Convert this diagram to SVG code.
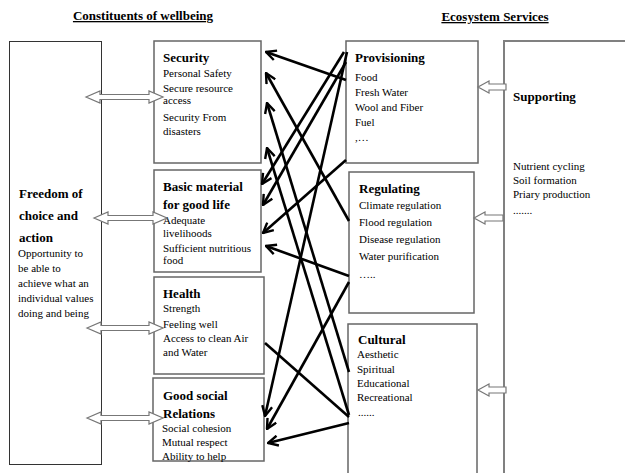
<svg xmlns="http://www.w3.org/2000/svg" width="625" height="473" viewBox="0 0 625 473">
<style>
text{font-family:"Liberation Serif","Times New Roman",serif;fill:#000}
.h{font-size:13px;font-weight:bold;text-decoration:underline}
.t{font-size:13px;font-weight:bold}
.i{font-size:11px}
.box{fill:#fff;stroke:#666;stroke-width:1.5}
.ha{fill:#fff;stroke:#777;stroke-width:1.2}
.c{stroke:#000;stroke-width:2.6;fill:none}
</style>
<defs>
<marker id="ah" viewBox="0 0 12 12" refX="11" refY="6" markerWidth="12" markerHeight="12" markerUnits="userSpaceOnUse" orient="auto">
<path d="M1,1 L11,6 L1,11" fill="none" stroke="#000" stroke-width="2.4"/>
</marker>
</defs>
<rect width="625" height="473" fill="#fff"/>
<text class="h" x="143" y="20" text-anchor="middle">Constituents of wellbeing</text>
<text class="h" x="495" y="21" text-anchor="middle">Ecosystem Services</text>

<g id="freedom">
<rect x="9.5" y="41.5" width="92" height="423" fill="#fff" stroke="#333" stroke-width="1"/>
<text class="t" x="19" y="198">Freedom of</text>
<text class="t" x="19" y="220">choice and</text>
<text class="t" x="19" y="242">action</text>
<text class="i" x="18" y="257">Opportunity to</text>
<text class="i" x="18" y="272">be able to</text>
<text class="i" x="18" y="287">achieve what an</text>
<text class="i" x="18" y="302">individual values</text>
<text class="i" x="18" y="317">doing and being</text>
</g>

<g id="supporting">
<path d="M504,473 L504,41 L625,41" fill="none" stroke="#808080" stroke-width="2"/>
<text class="t" x="513" y="101">Supporting</text>
<text class="i" x="513" y="170">Nutrient cycling</text>
<text class="i" x="513" y="184">Soil formation</text>
<text class="i" x="513" y="198">Priary production</text>
<text class="i" x="513" y="214">.......</text>
</g>

<g id="security">
<rect class="box" x="154" y="41" width="107" height="122"/>
<text class="t" x="163" y="62">Security</text>
<text class="i" x="163" y="77">Personal Safety</text>
<text class="i" x="163" y="92">Secure resource</text>
<text class="i" x="163" y="104">access</text>
<text class="i" x="163" y="121">Security From</text>
<text class="i" x="163" y="135">disasters</text>
</g>

<g id="basic">
<rect class="box" x="154" y="170" width="107" height="102"/>
<text class="t" x="163" y="191">Basic material</text>
<text class="t" x="163" y="209">for good life</text>
<text class="i" x="163" y="224">Adequate</text>
<text class="i" x="163" y="237">livelihoods</text>
<text class="i" x="163" y="252">Sufficient nutritious</text>
<text class="i" x="163" y="264">food</text>
</g>

<g id="health">
<rect class="box" x="154" y="277" width="110" height="97"/>
<text class="t" x="163" y="298">Health</text>
<text class="i" x="163" y="312">Strength</text>
<text class="i" x="163" y="328">Feeling well</text>
<text class="i" x="163" y="342">Access to clean Air</text>
<text class="i" x="163" y="356">and Water</text>
</g>

<g id="social">
<rect class="box" x="153" y="378" width="111" height="83"/>
<text class="t" x="163" y="400">Good social</text>
<text class="t" x="163" y="418">Relations</text>
<text class="i" x="162" y="432">Social cohesion</text>
<text class="i" x="162" y="446">Mutual respect</text>
<text class="i" x="162" y="460">Ability to help</text>
</g>

<g id="provisioning">
<rect class="box" x="346" y="41" width="132" height="122"/>
<text class="t" x="355" y="62">Provisioning</text>
<text class="i" x="355" y="81">Food</text>
<text class="i" x="355" y="96">Fresh Water</text>
<text class="i" x="355" y="111">Wool and Fiber</text>
<text class="i" x="355" y="126">Fuel</text>
<text class="i" x="355" y="141">,…</text>
</g>

<g id="regulating">
<rect class="box" x="349" y="172" width="125" height="141"/>
<text class="t" x="359" y="193">Regulating</text>
<text class="i" x="359" y="209">Climate regulation</text>
<text class="i" x="359" y="226">Flood regulation</text>
<text class="i" x="359" y="243">Disease regulation</text>
<text class="i" x="359" y="260">Water purification</text>
<text class="i" x="359" y="278">…..</text>
</g>

<g id="cultural">
<rect class="box" x="348" y="324" width="129" height="160"/>
<text class="t" x="358" y="344">Cultural</text>
<text class="i" x="357" y="358">Aesthetic</text>
<text class="i" x="357" y="373">Spiritual</text>
<text class="i" x="357" y="387">Educational</text>
<text class="i" x="357" y="401">Recreational</text>
<text class="i" x="358" y="416">......</text>
</g>

<g id="connectors">
<line class="c" x1="346" y1="80" x2="266" y2="52" marker-end="url(#ah)"/>
<line class="c" x1="349" y1="221" x2="266" y2="73" marker-end="url(#ah)"/>
<line class="c" x1="349" y1="372" x2="267" y2="103" marker-end="url(#ah)"/>
<line class="c" x1="349" y1="415" x2="267" y2="148" marker-end="url(#ah)"/>
<line class="c" x1="344" y1="52" x2="262" y2="184" marker-end="url(#ah)"/>
<line class="c" x1="346" y1="62" x2="263" y2="205" marker-end="url(#ah)"/>
<line class="c" x1="346" y1="160" x2="263" y2="233" marker-end="url(#ah)"/>
<line class="c" x1="349" y1="276" x2="266" y2="246" marker-end="url(#ah)"/>
<line class="c" x1="347" y1="52" x2="265" y2="416" marker-end="url(#ah)"/>
<line class="c" x1="349" y1="282" x2="267" y2="429" marker-end="url(#ah)"/>
<line class="c" x1="349" y1="423" x2="268" y2="443" marker-end="url(#ah)"/>
<line class="c" x1="265" y1="343" x2="349" y2="417"/>
<polygon class="ha" points="86,97 100,91 100,94.5 149,94.5 149,91 163,97 149,103 149,99.5 100,99.5 100,103"/>
<polygon class="ha" points="94,218 108,212 108,215.5 153,215.5 153,212 167,218 153,224 153,220.5 108,220.5 108,224"/>
<polygon class="ha" points="87,328 101,322 101,325.5 149,325.5 149,322 163,328 149,334 149,330.5 101,330.5 101,334"/>
<polygon class="ha" points="87,418 101,412 101,415.5 149,415.5 149,412 163,418 149,424 149,420.5 101,420.5 101,424"/>
<polygon class="ha" points="478,87 489,81 489,84 506,84 506,90 489,90 489,93"/>
<polygon class="ha" points="474,218 485,212 485,215 503,215 503,221 485,221 485,224"/>
<polygon class="ha" points="478,390 489,384 489,387 506,387 506,393 489,393 489,396"/>
</g>
</svg>
